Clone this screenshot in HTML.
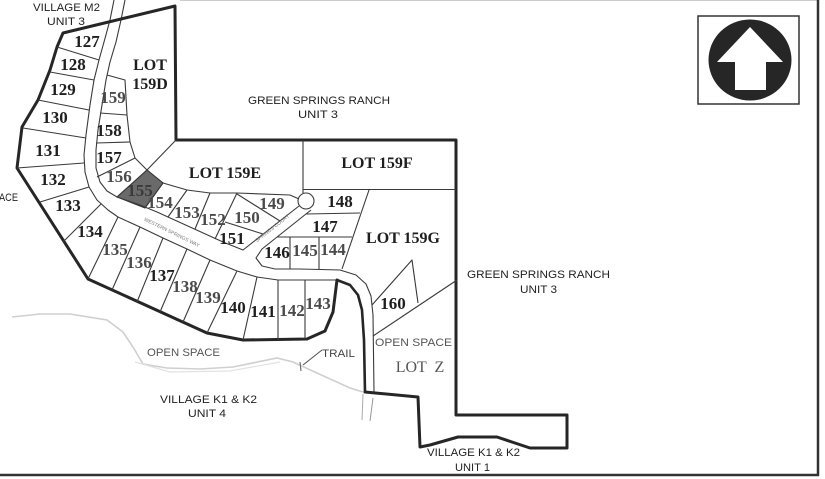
<!DOCTYPE html>
<html>
<head>
<meta charset="utf-8">
<style>
html,body{margin:0;padding:0;background:#fff;}
svg{display:block;}
.thick{fill:none;stroke:#262626;stroke-width:3;stroke-linejoin:round;stroke-linecap:round;}
.thin{fill:none;stroke:#3a3a3a;stroke-width:1.1;stroke-linejoin:round;}
.lot{font-family:"Liberation Serif",serif;font-weight:bold;font-size:17px;text-anchor:middle;fill:#1e1e1e;}
.big{font-size:16px;}
.lg{fill:#4a4a4a;}
.sans{font-family:"Liberation Sans",sans-serif;font-size:11px;fill:#222;}
.gr{fill:#555;}
</style>
</head>
<body>
<svg width="825" height="479" viewBox="0 0 825 479" xmlns="http://www.w3.org/2000/svg">
<rect width="825" height="479" fill="#fff"/>

<!-- frame -->
<line x1="180" y1="0.5" x2="818" y2="0.5" stroke="#ccc" stroke-width="1"/>
<line x1="818" y1="0" x2="818" y2="476" stroke="#333" stroke-width="2.5"/>
<line x1="0" y1="475" x2="819" y2="475" stroke="#333" stroke-width="2.5"/>

<!-- north arrow -->
<rect x="698" y="16" width="101" height="88" fill="none" stroke="#333" stroke-width="1.5"/>
<ellipse cx="750" cy="60" rx="41.5" ry="40.5" fill="#262626"/>
<polygon points="750,27 783,62 766,62 766,90 735,90 735,62 717,62" fill="#fff"/>

<!-- trail (faint) -->
<polyline fill="none" stroke="#cfcfcf" stroke-width="1.6" points="12,317 40,314 70,314 107,320 123,332 133,347 143,364 167,368 200,369 233,367 277,358 293,362 317,373 350,388 363,392"/>
<polyline fill="none" stroke="#e2e2e2" stroke-width="1.2" points="135,362 170,372 230,371 280,362"/>

<!-- 155 shaded -->
<polygon points="147,170 163,183 145,208 117,197" fill="#6a6a6a" stroke="#333" stroke-width="1"/>

<!-- road lines -->
<polyline class="thin" points="114,0 110,20 104,42 99,60 94,80 90,105 86,135 84,155 85,172 89,187 97,200 108,210 118,217 140,227 163,238 187,249 210,260 237,271 257,277 278,280 305,280 337,280"/>
<polyline class="thick" style="stroke-width:2.6" points="337,280 350,285 358,295 362,310 364,340 365,392"/>
<polyline class="thin" points="125,0 121,20 116,42 110,62 106,80 102,105 98,130 96,150 96,168 100,182 107,191 117,197 140,205 157,212 190,227 223,242 243,250 299,206"/>
<polyline class="thin" points="311,210 262,249 256,258 262,266 275,269 300,269 340,270 356,275 366,284 371,296 373,315 374,392"/>
<circle cx="306" cy="201" r="8" class="thin"/>
<!-- faint road continuation -->
<line x1="363" y1="394" x2="362" y2="420" stroke="#aaa" stroke-width="1"/>
<line x1="373" y1="398" x2="370" y2="421" stroke="#999" stroke-width="1"/>

<!-- main thick boundary -->
<polyline class="thick" points="337,280 333,312 325,331 307,339 243,340 207,333 88,279 17,168 22,127 38,100 50,70 57,47 63,33 175,6 176,140 456,140 456,415 567,415 567,448 530,448 497,437 458,437 430,445 420,447 418,397 365,392"/>

<!-- west lot dividers -->
<g class="thin">
<line x1="57" y1="47" x2="99" y2="60"/>
<line x1="50" y1="72" x2="94" y2="80"/>
<line x1="38" y1="100" x2="89" y2="110"/>
<line x1="23" y1="128" x2="86" y2="138"/>
<line x1="17" y1="168" x2="84" y2="163"/>
<line x1="40" y1="202" x2="89" y2="187"/>
<line x1="63" y1="242" x2="101" y2="204"/>
<line x1="88" y1="279" x2="118" y2="217"/>
<line x1="112" y1="290" x2="140" y2="227"/>
<line x1="137" y1="302" x2="163" y2="238"/>
<line x1="160" y1="312" x2="187" y2="249"/>
<line x1="183" y1="322" x2="210" y2="260"/>
<line x1="207" y1="333" x2="237" y2="271"/>
<line x1="243" y1="340" x2="257" y2="277"/>
<line x1="278" y1="340" x2="278" y2="280"/>
<line x1="305" y1="339" x2="305" y2="280"/>

<!-- east of road lots 159-156 -->
<polyline points="107,75 125,80 127,115 130,142 135,158 147,170"/>
<line x1="100" y1="113" x2="127" y2="115"/>
<line x1="96" y1="143" x2="130" y2="142"/>
<line x1="97" y1="177" x2="135" y2="158"/>
<line x1="147" y1="170" x2="117" y2="197"/>
<line x1="176" y1="140" x2="147" y2="170"/>
<!-- 159E bottom -->
<polyline points="147,170 163,183 187,190 210,193 237,193 290,195 299,199"/>
<line x1="163" y1="183" x2="145" y2="208"/>
<line x1="187" y1="190" x2="168" y2="217"/>
<line x1="210" y1="193" x2="195" y2="229"/>
<line x1="237" y1="193" x2="215" y2="239"/>
<line x1="237" y1="194" x2="280" y2="221"/>
<line x1="225" y1="222" x2="263" y2="234"/>
<!-- 159F / 148 etc -->
<line x1="303" y1="140" x2="303" y2="193"/>
<line x1="303" y1="189.5" x2="456" y2="189.5"/>
<line x1="369" y1="190" x2="342" y2="269"/>
<line x1="306" y1="214" x2="360" y2="213"/>
<line x1="277" y1="237" x2="352" y2="237"/>
<line x1="290" y1="237" x2="290" y2="269"/>
<line x1="319" y1="237" x2="319" y2="269"/>
<!-- 160 -->
<polyline points="372,305 412,260 418,303"/>
<line x1="373" y1="336" x2="457" y2="280"/>
<!-- trail leader -->
<polyline points="322,350 303,365" stroke="#555"/>
<line x1="300" y1="362" x2="301" y2="371" stroke="#666"/>
</g>

<!-- road names -->
<text x="172" y="234" transform="rotate(26 172 232)" font-family="Liberation Sans, sans-serif" font-size="5" fill="#777" text-anchor="middle">WESTERN SPRINGS WAY</text>
<text x="272" y="230" transform="rotate(-38 272 228)" font-family="Liberation Sans, sans-serif" font-size="5" fill="#777" text-anchor="middle">SPRINGS COURT</text>

<!-- lot labels -->
<text class="lot" x="87" y="47">127</text>
<text class="lot" x="73" y="70">128</text>
<text class="lot" x="63" y="95">129</text>
<text class="lot" x="55" y="123">130</text>
<text class="lot" x="48" y="156">131</text>
<text class="lot" x="53" y="185">132</text>
<text class="lot" x="68" y="211">133</text>
<text class="lot" x="90" y="237">134</text>
<text class="lot lg" x="115" y="255">135</text>
<text class="lot lg" x="139" y="268">136</text>
<text class="lot" x="162" y="281">137</text>
<text class="lot lg" x="185" y="292">138</text>
<text class="lot lg" x="208" y="303">139</text>
<text class="lot" x="233" y="313">140</text>
<text class="lot" x="263" y="317">141</text>
<text class="lot lg" x="292" y="316">142</text>
<text class="lot lg" x="318" y="309">143</text>
<text class="lot lg" x="333" y="255">144</text>
<text class="lot lg" x="305" y="256">145</text>
<text class="lot" x="277" y="258">146</text>
<text class="lot" x="325" y="232">147</text>
<text class="lot" x="340" y="207">148</text>
<text class="lot lg" x="272" y="209">149</text>
<text class="lot lg" x="247" y="223">150</text>
<text class="lot" x="232" y="244">151</text>
<text class="lot lg" x="213" y="225">152</text>
<text class="lot lg" x="187" y="218">153</text>
<text class="lot lg" x="160" y="208">154</text>
<text class="lot" x="140" y="196" style="fill:#3a3a3a">155</text>
<text class="lot lg" x="119" y="182">156</text>
<text class="lot" x="109" y="163">157</text>
<text class="lot" x="109" y="136">158</text>
<text class="lot lg" x="113" y="103">159</text>
<text class="lot" x="393" y="309">160</text>
<text class="lot big" x="150" y="70">LOT</text>
<text class="lot big" x="150" y="89">159D</text>
<text class="lot big" x="225" y="178">LOT 159E</text>
<text class="lot big" x="377" y="168">LOT 159F</text>
<text class="lot big" x="403" y="243">LOT 159G</text>
<text x="420" y="372" font-family="Liberation Serif, serif" font-size="16" fill="#555" text-anchor="middle" xml:space="preserve">LOT  Z</text>

<!-- sans labels -->
<text class="sans" x="33" y="11" textLength="67" lengthAdjust="spacingAndGlyphs">VILLAGE M2</text>
<text class="sans" x="47" y="25" textLength="38" lengthAdjust="spacingAndGlyphs">UNIT 3</text>
<text class="sans" x="248" y="104" textLength="142" lengthAdjust="spacingAndGlyphs">GREEN SPRINGS RANCH</text>
<text class="sans" x="298" y="118" textLength="40" lengthAdjust="spacingAndGlyphs">UNIT 3</text>
<text class="sans" x="467" y="278" textLength="143" lengthAdjust="spacingAndGlyphs">GREEN SPRINGS RANCH</text>
<text class="sans" x="520" y="293" textLength="37" lengthAdjust="spacingAndGlyphs">UNIT 3</text>
<text class="sans gr" x="147" y="356" textLength="73" lengthAdjust="spacingAndGlyphs">OPEN SPACE</text>
<text class="sans gr" x="375" y="346" textLength="77" lengthAdjust="spacingAndGlyphs">OPEN SPACE</text>
<text class="sans" x="160" y="403" textLength="97" lengthAdjust="spacingAndGlyphs">VILLAGE K1 &amp; K2</text>
<text class="sans" x="188" y="417" textLength="38" lengthAdjust="spacingAndGlyphs">UNIT 4</text>
<text class="sans" x="427" y="456" textLength="93" lengthAdjust="spacingAndGlyphs">VILLAGE K1 &amp; K2</text>
<text class="sans" x="455" y="471" textLength="35" lengthAdjust="spacingAndGlyphs">UNIT 1</text>
<text class="sans" x="322" y="357" textLength="33" lengthAdjust="spacingAndGlyphs" style="fill:#444">TRAIL</text>
<text class="sans" x="-1" y="201" textLength="19" lengthAdjust="spacingAndGlyphs">ACE</text>
</svg>
</body>
</html>
